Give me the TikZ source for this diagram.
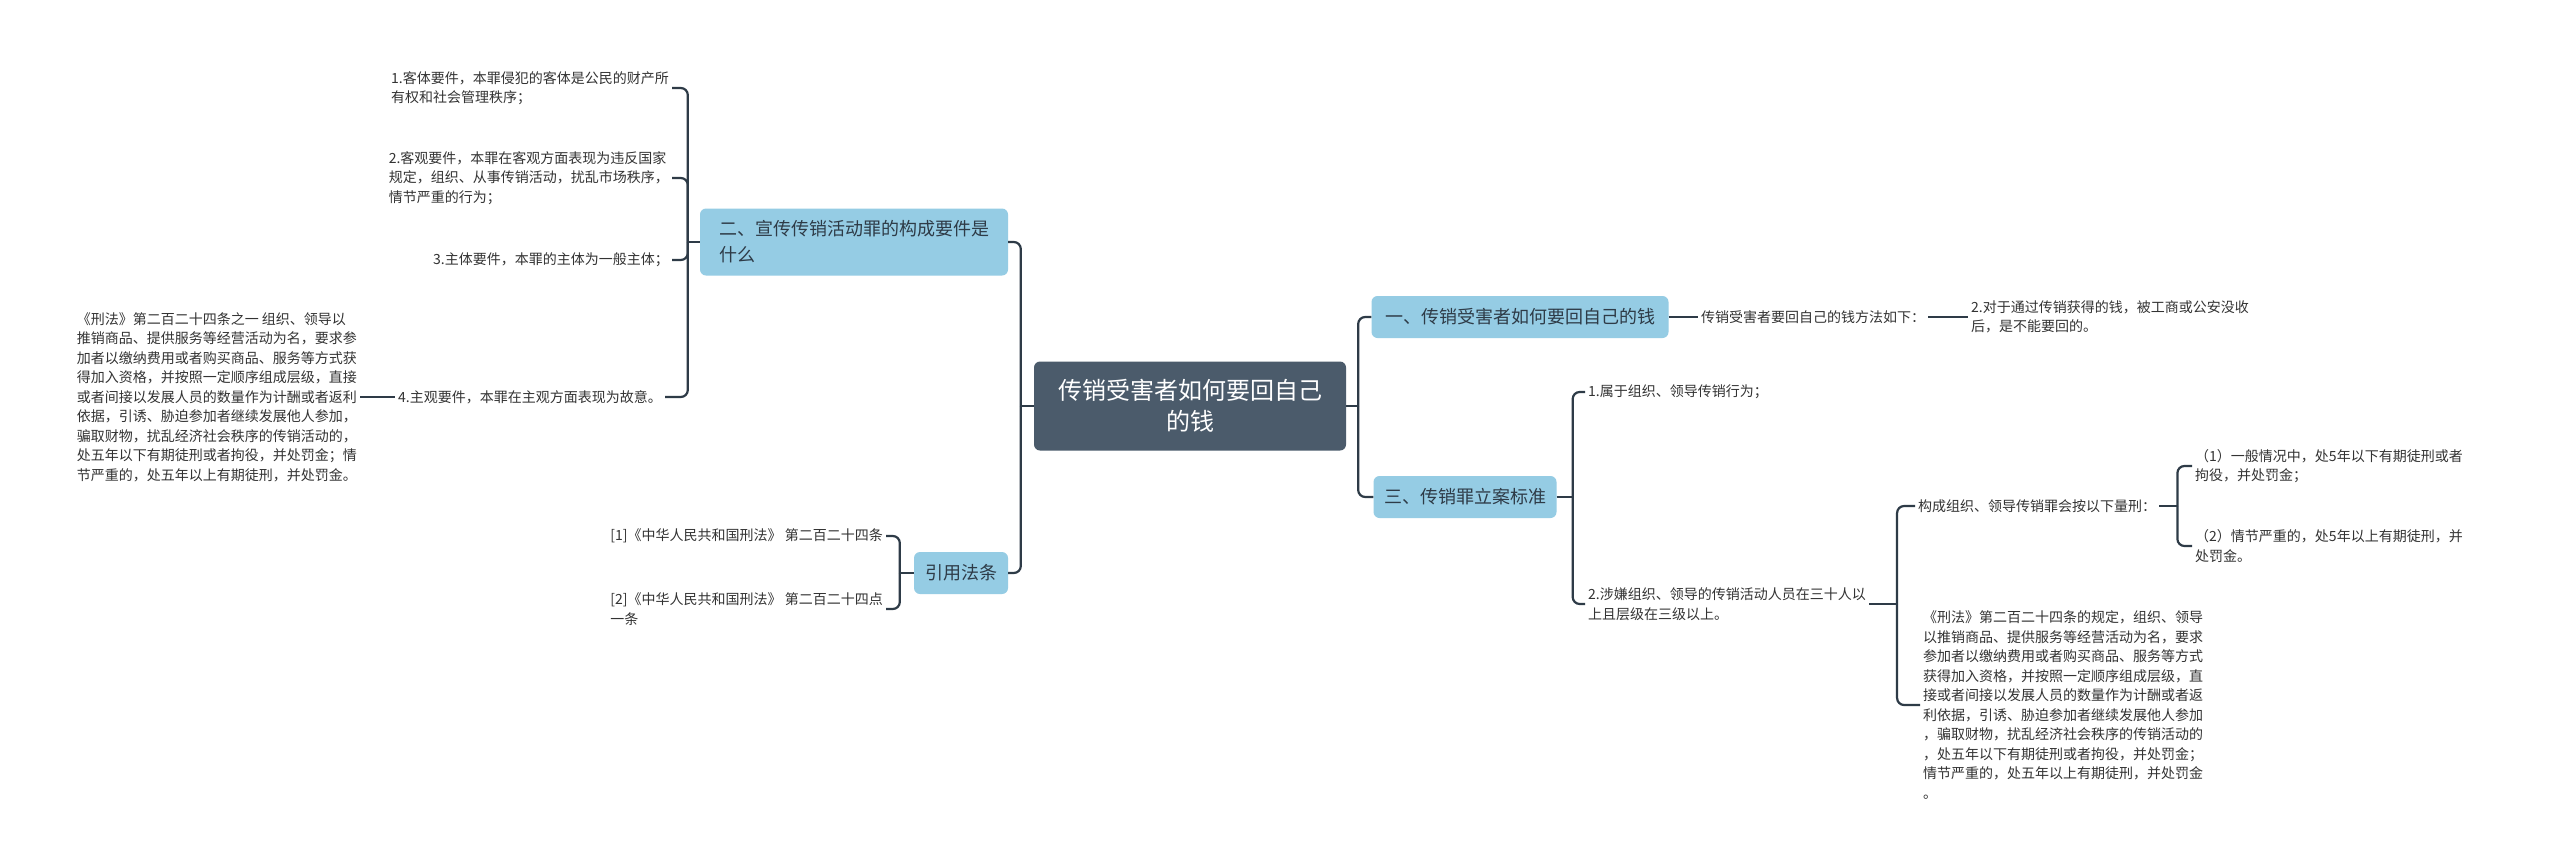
\documentclass[tikz,border=0pt]{standalone}
\usepackage{fontspec}
\setmainfont{Noto Sans CJK SC}
\usepackage{xcolor}
\usepackage{tikz}
\definecolor{rootfill}{HTML}{4B5B6B}
\definecolor{topicfill}{HTML}{95CCE4}
\definecolor{linkcol}{HTML}{2E3B47}
\definecolor{leafcol}{HTML}{333333}

\begin{document}
\begin{tikzpicture}[x=1pt, y=-1pt,
    link/.style={draw=linkcol, line width=2.2pt, rounded corners=7pt},
    root/.style={fill=rootfill, text=white, rounded corners=6pt, align=center,
        font=\fontsize{24}{31}\selectfont, minimum width=312pt, minimum height=89pt},
    topic/.style={fill=topicfill, text=linkcol, rounded corners=6pt, align=left,
        font=\fontsize{18}{26}\selectfont, minimum height=42pt},
    leaf/.style={text=leafcol, font=\fontsize{14}{19.5}\selectfont, align=left, inner sep=3pt}]
    \path[use as bounding box, fill=white] (0,0) rectangle (2560,863);

    % centre and first level
    \node[root] (root) at (1190,406) {传销受害者如何要回自己\\的钱};
    \node[topic, minimum width=308pt, minimum height=67pt] (gouc) at (854,242) {二、宣传传销活动罪的构成要件是\\什么};
    \node[topic, minimum width=94pt] (yinyong) at (961,573) {引用法条};
    \node[topic, minimum width=297pt] (yaohui) at (1520,317) {一、传销受害者如何要回自己的钱};
    \node[topic, minimum width=183pt] (lian) at (1465,497) {三、传销罪立案标准};

    % left leaves
    \node[leaf, anchor=east] (keti) at (672,88) {1.客体要件，本罪侵犯的客体是公民的财产所\\有权和社会管理秩序；};
    \node[leaf, anchor=east] (keguan) at (672,178) {2.客观要件，本罪在客观方面表现为违反国家\\规定，组织、从事传销活动，扰乱市场秩序，\\情节严重的行为；};
    \node[leaf, anchor=east] (zhuti) at (672,260) {3.主体要件，本罪的主体为一般主体；};
    \node[leaf, anchor=east] (zhuguan) at (665,397) {4.主观要件，本罪在主观方面表现为故意。};
    \node[leaf, anchor=east] (xingfaL) at (360,397) {《刑法》第二百二十四条之一 组织、领导以\\推销商品、提供服务等经营活动为名，要求参\\加者以缴纳费用或者购买商品、服务等方式获\\得加入资格，并按照一定顺序组成层级，直接\\或者间接以发展人员的数量作为计酬或者返利\\依据，引诱、胁迫参加者继续发展他人参加，\\骗取财物，扰乱经济社会秩序的传销活动的，\\处五年以下有期徒刑或者拘役，并处罚金；情\\节严重的，处五年以上有期徒刑，并处罚金。};
    \node[leaf, anchor=east] (fa1) at (886,536) {[1]《中华人民共和国刑法》 第二百二十四条};
    \node[leaf, anchor=east] (fa2) at (886,609) {[2]《中华人民共和国刑法》 第二百二十四点\\一条};

    % right leaves
    \node[leaf, anchor=west] (fangfa) at (1698,317) {传销受害者要回自己的钱方法如下：};
    \node[leaf, anchor=west] (moshou) at (1968,317) {2.对于通过传销获得的钱，被工商或公安没收\\后，是不能要回的。};
    \node[leaf, anchor=west] (shuyu) at (1585,392) {1.属于组织、领导传销行为；};
    \node[leaf, anchor=west] (shexian) at (1585,604) {2.涉嫌组织、领导的传销活动人员在三十人以\\上且层级在三级以上。};
    \node[leaf, anchor=west] (liangxing) at (1915,506) {构成组织、领导传销罪会按以下量刑：};
    \node[leaf, anchor=west] (xingfaR) at (1920,705) {《刑法》第二百二十四条的规定，组织、领导\\以推销商品、提供服务等经营活动为名，要求\\参加者以缴纳费用或者购买商品、服务等方式\\获得加入资格，并按照一定顺序组成层级，直\\接或者间接以发展人员的数量作为计酬或者返\\利依据，引诱、胁迫参加者继续发展他人参加\\，骗取财物，扰乱经济社会秩序的传销活动的\\，处五年以下有期徒刑或者拘役，并处罚金；\\情节严重的，处五年以上有期徒刑，并处罚金\\。};
    \node[leaf, anchor=west] (yiban) at (2192,466) {（1）一般情况中，处5年以下有期徒刑或者\\拘役，并处罚金；};
    \node[leaf, anchor=west] (yanzhong) at (2192,546) {（2）情节严重的，处5年以上有期徒刑，并\\处罚金。};

    % left connectors
    \draw[link] (root.west) -- ++(-13,0) coordinate (rl);
    \draw[link] (rl) |- (gouc.east);
    \draw[link] (rl) |- (yinyong.east);
    \draw[link] (gouc.west) -- ++(-12,0) coordinate (gl);
    \draw[link] (gl) |- (keti.east);
    \draw[link] (gl) |- (keguan.east);
    \draw[link] (gl) |- (zhuti.east);
    \draw[link] (gl) |- (zhuguan.east);
    \draw[link] (zhuguan.west) -- (xingfaL.east);
    \draw[link] (yinyong.west) -- ++(-14,0) coordinate (yl);
    \draw[link] (yl) |- (fa1.east);
    \draw[link] (yl) |- (fa2.east);

    % right connectors
    \draw[link] (root.east) -- ++(12,0) coordinate (rr);
    \draw[link] (rr) |- (yaohui.west);
    \draw[link] (rr) |- (lian.west);
    \draw[link] (yaohui.east) -- (fangfa.west);
    \draw[link] (fangfa.east) -- (moshou.west);
    \draw[link] (lian.east) -- ++(16,0) coordinate (ll);
    \draw[link] (ll) |- (shuyu.west);
    \draw[link] (ll) |- (shexian.west);
    \draw[link] (shexian.east) -- ++(28,0) coordinate (sl);
    \draw[link] (sl) |- (liangxing.west);
    \draw[link] (sl) |- (xingfaR.west);
    \draw[link] (liangxing.east) -- ++(18,0) coordinate (lx);
    \draw[link] (lx) |- (yiban.west);
    \draw[link] (lx) |- (yanzhong.west);
\end{tikzpicture}
\end{document}
